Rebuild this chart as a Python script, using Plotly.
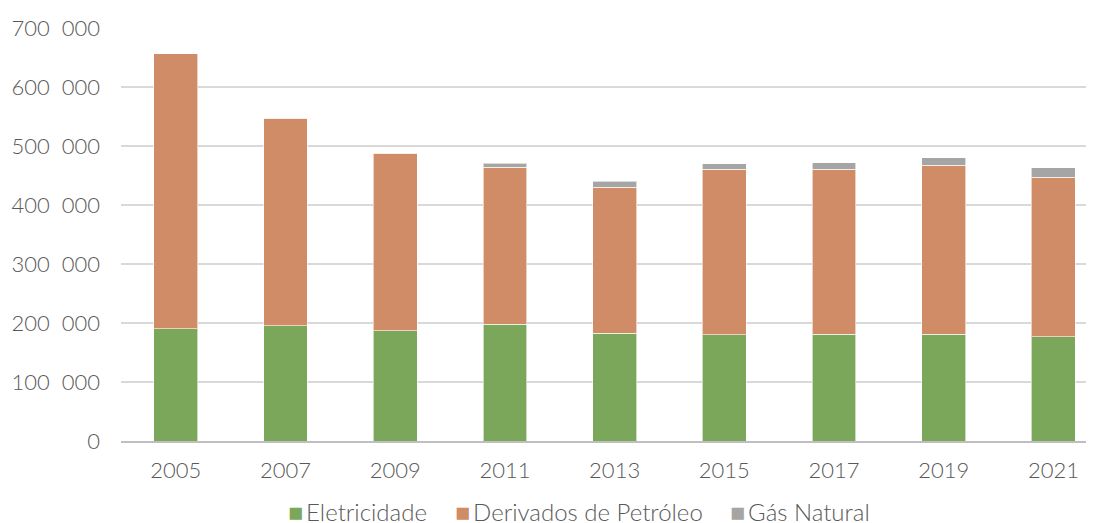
import plotly.graph_objects as go

years = ["2005", "2007", "2009", "2011", "2013", "2015", "2017", "2019", "2021"]
eletricidade = [190000, 195000, 187000, 198000, 183000, 180000, 181000, 181000, 177000]
derivados = [466000, 352000, 301000, 266000, 247000, 281000, 280000, 286000, 270000]
gas_natural = [0, 0, 0, 7000, 10000, 9000, 11000, 13000, 16000]

tick_vals = [0, 100000, 200000, 300000, 400000, 500000, 600000, 700000]
tick_text = ["0", "100\u00a0 000", "200\u00a0 000", "300\u00a0 000", "400\u00a0 000",
             "500\u00a0 000", "600\u00a0 000", "700\u00a0 000"]

series = [("Eletricidade", eletricidade, "#7ba75b"),
          ("Derivados de Petróleo", derivados, "#cf8c66"),
          ("Gás Natural", gas_natural, "#a5a5a5")]

FONT = dict(family="Lato", color="#595959", size=22, weight=300)
LEG_FONT = dict(FONT, size=24)
edge = dict(color="rgba(255,255,255,0.6)", width=1)

# the page adds an 8px body margin, so the figure is a bit smaller than the window
W, H, L = 1086, 515, 113

fig = go.Figure()
for name, vals, col in series:
    fig.add_trace(go.Bar(x=years, y=vals, name=name, showlegend=False,
                         marker=dict(color=col, line=edge)))

# legend drawn as text so the swatch/label spacing matches the original
legend_x = [278, 445, 720]   # left edge of each item, px inside the figure
for (name, _, col), px in zip(series, legend_x):
    fig.add_annotation(
        xref="paper", yref="paper", x=(px - L) / (W - L), y=-0.173,
        xanchor="left", yanchor="middle", showarrow=False,
        text=f'<span style="color:{col};font-size:25px;font-family:DejaVu Sans">■</span>\u2009{name}',
        font=LEG_FONT)

fig.update_layout(
    barmode="stack", bargap=0.6,
    width=W, height=H,
    paper_bgcolor="white", plot_bgcolor="white",
    font=FONT,
    margin=dict(l=L, r=0, t=20, b=82, autoexpand=False),
    xaxis=dict(showgrid=False, showline=True, linecolor="#bfbfbf", linewidth=1.5,
               range=[-0.5, 8.37], ticks="", ticklabelstandoff=9, tickfont=FONT,
               automargin=False),
    yaxis=dict(range=[0, 700000], tickvals=tick_vals, ticktext=tick_text,
               gridcolor="#d9d9d9", gridwidth=1.5, zeroline=False,
               ticklabelstandoff=20, tickfont=FONT, automargin=False),
)

fig.write_html("out.html")
